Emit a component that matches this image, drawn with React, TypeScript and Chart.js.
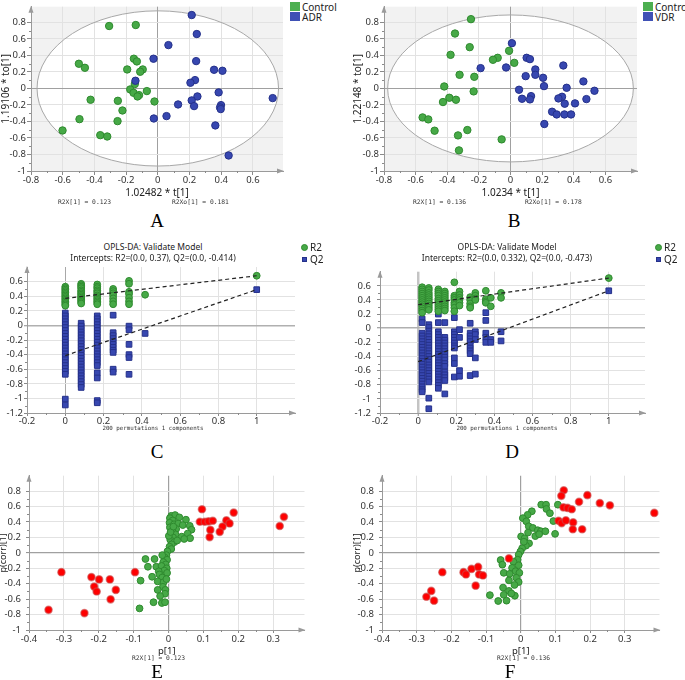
import React, { useEffect, useRef } from "react";
import { Chart, registerables } from "chart.js";
Chart.register(...registerables);

type P = [number, number];

// ---------------- Panel A: OPLS-DA scores, Control vs ADR ----------------
const A_CONTROL: P[] = [
  [-0.307, 0.756], [-0.139, 0.768], [-0.498, 0.299], [-0.46, 0.25], [-0.151, 0.36], [-0.132, 0.327],
  [-0.193, 0.23], [-0.095, 0.23], [-0.111, 0.202], [-0.145, 0.053], [-0.174, -0.012], [-0.153, -0.053],
  [-0.118, -0.081], [-0.128, -0.097], [-0.069, -0.032], [-0.424, -0.137], [-0.252, -0.15], [-0.021, -0.158],
  [-0.223, -0.267], [-0.494, -0.372], [-0.254, -0.396], [-0.601, -0.509], [-0.363, -0.566], [-0.319, -0.582],
];
const A_ADR: P[] = [
  [0.214, 0.889], [0.246, 0.659], [0.067, 0.525], [-0.027, 0.36], [0.242, 0.331], [0.355, 0.226],
  [0.408, 0.214], [-0.141, 0.093], [0.235, 0.101], [0.206, 0.069], [0.384, -0.048], [0.25, -0.097],
  [0.214, -0.145], [0.128, -0.194], [0.229, -0.214], [0.399, -0.202], [0.393, -0.23], [0.397, -0.25],
  [0.725, -0.117], [0.055, -0.335], [-0.025, -0.364], [0.363, -0.448], [0.447, -0.812],
];
const A_ELLIPSE: P = [0.762, 0.94];

// ---------------- Panel B: OPLS-DA scores, Control vs VDR ----------------
const B_CONTROL: P[] = [
  [-0.25, 0.839], [-0.351, 0.665], [-0.258, 0.5], [-0.379, 0.407], [-0.009, 0.456], [-0.081, 0.371],
  [-0.111, 0.347], [0.024, 0.31], [-0.322, 0.165], [-0.229, 0.141], [-0.419, 0.024], [-0.233, -0.036],
  [-0.387, -0.113], [-0.345, -0.137], [-0.427, -0.165], [-0.556, -0.351], [-0.52, -0.375], [-0.48, -0.512],
  [-0.273, -0.504], [-0.332, -0.569], [-0.056, -0.617], [-0.326, -0.75],
];
const B_VDR: P[] = [
  [0.009, 0.548], [-0.189, 0.246], [-0.028, 0.254], [0.102, 0.371], [0.123, 0.355], [0.157, 0.23],
  [0.157, 0.165], [0.096, 0.149], [0.206, 0.129], [0.212, 0.028], [0.334, 0.278], [0.054, -0.016],
  [0.461, 0.085], [0.355, 0.008], [0.531, -0.028], [0.073, -0.125], [0.13, -0.093], [0.123, -0.133],
  [0.326, -0.101], [0.303, -0.121], [0.343, -0.185], [0.408, -0.181], [0.48, -0.129], [0.263, -0.282],
  [0.292, -0.315], [0.341, -0.315], [0.383, -0.315], [0.214, -0.431],
];
const B_ELLIPSE: P = [0.777, 0.89];

const SCORE_X_TICKS = [-0.8, -0.6, -0.4, -0.2, 0, 0.2, 0.4, 0.6];
const SCORE_Y_TICKS = [-1, -0.8, -0.6, -0.4, -0.2, 0, 0.2, 0.4, 0.6, 0.8];

// ---------------- Panel C: permutation test (ADR) ----------------
const C_PERM_X = [0, 0.083, 0.167, 0.25, 0.333, 0.417];
const C_R2_PERM = [
  [0.53, 0.51, 0.49, 0.47, 0.45, 0.43, 0.41, 0.39, 0.37, 0.35, 0.33, 0.31, 0.29, 0.27],
  [0.57, 0.55, 0.53, 0.51, 0.48, 0.46, 0.44, 0.42, 0.4, 0.38, 0.36, 0.34, 0.32, 0.3],
  [0.56, 0.53, 0.51, 0.48, 0.46, 0.44, 0.41, 0.39, 0.37, 0.35, 0.33, 0.31, 0.29],
  [0.5, 0.47, 0.44, 0.41, 0.37, 0.33, 0.29],
  [0.61, 0.57, 0.46, 0.43, 0.38, 0.33, 0.29],
  [0.42],
];
const C_Q2_PERM = [
  [0.17, 0.13, 0.09, 0.05, 0.01, -0.03, -0.07, -0.11, -0.15, -0.19, -0.23, -0.27, -0.31, -0.35, -0.39, -0.43, -0.47, -0.51, -0.55, -0.59, -0.63, -0.67, -1.01, -1.09],
  [0.03, -0.01, -0.05, -0.09, -0.13, -0.17, -0.21, -0.25, -0.29, -0.33, -0.37, -0.41, -0.45, -0.49, -0.53, -0.57, -0.61, -0.65, -0.69, -0.73, -0.77, -0.81, -0.85],
  [0.13, 0.09, 0.05, 0.01, -0.03, -0.07, -0.11, -0.15, -0.19, -0.23, -0.27, -0.31, -0.35, -0.39, -0.43, -0.47, -0.51, -0.55, -0.65, -0.72, -1.03, -1.06],
  [0.14, -0.1, -0.14, -0.18, -0.22, -0.26, -0.3, -0.34, -0.37, -0.6, -0.64],
  [-0.01, -0.06, -0.26, -0.4, -0.44, -0.67],
  [-0.11],
];
const C_ORIG_X = 1;
const C_R2_ORIG = 0.68;
const C_Q2_ORIG = 0.49;
const C_R2_INTERCEPT = 0.37;
const C_Q2_INTERCEPT = -0.414;

// ---------------- Panel D: permutation test (VDR) ----------------
const D_PERM_X = [0.021, 0.056, 0.106, 0.14, 0.19, 0.217, 0.273, 0.3, 0.355, 0.381, 0.435];
const D_R2_PERM = [
  [0.58, 0.55, 0.52, 0.49, 0.46, 0.43, 0.4, 0.37, 0.34, 0.31, 0.28, 0.25, 0.22],
  [0.57, 0.54, 0.5, 0.47, 0.44, 0.41, 0.38, 0.35, 0.32, 0.29, 0.26],
  [0.55, 0.52, 0.49, 0.46, 0.42, 0.39, 0.36, 0.33, 0.3, 0.27, 0.24],
  [0.52, 0.49, 0.46, 0.43, 0.4, 0.37, 0.34, 0.31, 0.28, 0.25],
  [0.65, 0.46, 0.43, 0.4, 0.36, 0.33, 0.29, 0.24],
  [0.52, 0.47, 0.43, 0.4, 0.36, 0.32],
  [0.44, 0.4, 0.35, 0.31, 0.29],
  [0.5, 0.46, 0.42, 0.4],
  [0.53, 0.41, 0.38, 0.36],
  [0.43, 0.31],
  [0.5, 0.43],
];
const D_Q2_PERM = [
  [0.13, 0.08, -0.07, -0.11, -0.15, -0.19, -0.23, -0.27, -0.31, -0.35, -0.39, -0.43, -0.47, -0.51, -0.55, -0.59, -0.63, -0.67, -0.71, -0.75, -0.79, -0.83, -0.87, -0.9],
  [0.05, 0.01, -0.04, -0.08, -0.12, -0.16, -0.2, -0.24, -0.28, -0.32, -0.36, -0.4, -0.44, -0.48, -0.52, -0.56, -0.6, -0.64, -0.68, -0.72, -0.76, -0.99, -1.14],
  [0.2, 0.08, -0.05, -0.09, -0.13, -0.17, -0.21, -0.25, -0.29, -0.33, -0.37, -0.41, -0.45, -0.49, -0.53, -0.57, -0.61, -0.65, -0.69, -0.73, -0.77, -0.81, -0.85],
  [0.08, -0.13, -0.17, -0.21, -0.25, -0.29, -0.33, -0.37, -0.41, -0.45, -0.5, -0.54, -0.62, -0.66, -0.7, -0.74, -0.93],
  [0.15, -0.05, -0.09, -0.13, -0.17, -0.21, -0.25, -0.28, -0.42, -0.5, -0.69],
  [-0.02, -0.13, -0.6, -0.68],
  [0.07, -0.07, -0.11, -0.15, -0.19, -0.24, -0.28, -0.32, -0.36, -0.67],
  [-0.05, -0.09, -0.16, -0.42, -0.65],
  [0.22, 0.11, -0.07, -0.13, -0.2],
  [-0.16, -0.2],
  [-0.05, -0.18],
];
const D_ORIG_X = 1;
const D_R2_ORIG = 0.71;
const D_Q2_ORIG = 0.53;
const D_R2_INTERCEPT = 0.332;
const D_Q2_INTERCEPT = -0.473;

const PERM_X_TICKS = [-0.2, 0, 0.2, 0.4, 0.6, 0.8, 1];
const PERM_Y_TICKS = [-1.2, -1, -0.8, -0.6, -0.4, -0.2, 0, 0.2, 0.4, 0.6];

// ---------------- Panel E: S-plot (ADR) ----------------
const E_SIG: P[] = [
  [0.096, 0.565], [0.09, 0.403], [0.104, 0.403], [0.115, 0.408], [0.127, 0.416], [0.187, 0.522],
  [0.166, 0.42], [0.175, 0.382], [0.155, 0.34], [0.147, 0.272], [0.12, 0.297], [0.118, 0.204],
  [0.319, 0.348], [0.331, 0.467], [-0.307, -0.251], [-0.221, -0.314], [-0.199, -0.344], [-0.213, -0.437],
  [-0.206, -0.501], [-0.168, -0.344], [-0.151, -0.48], [-0.166, -0.603], [-0.096, -0.251], [-0.344, -0.739],
  [-0.241, -0.781],
];
const E_OTHER: P[] = [
  [0.008, 0.48], [0.019, 0.49], [0.031, 0.46], [0.05, 0.43], [0.004, 0.45], [0.012, 0.42], [0.003, 0.39],
  [0.016, 0.37], [0.028, 0.38], [0.041, 0.36], [0.061, 0.35], [0.066, 0.3], [0.055, 0.25], [0.038, 0.21],
  [0.062, 0.19], [0.045, 0.18], [0.022, 0.31], [0.011, 0.28], [0.004, 0.33], [0.02, 0.24], [0.013, 0.2],
  [0.005, 0.17], [0.017, 0.14], [0.009, 0.11], [0.003, 0.08], [0.008, 0.05], [0.001, 0.22], [0.025, 0.16],
  [0.006, 0.27], [0.014, 0.34], [-0.003, 0.02], [-0.006, -0.03], [-0.011, -0.06], [-0.018, -0.03],
  [-0.004, -0.09], [-0.04, -0.08], [-0.066, -0.08], [-0.015, -0.12], [-0.008, -0.15], [-0.059, -0.18],
  [-0.035, -0.18], [-0.02, -0.17], [-0.005, -0.2], [-0.012, -0.23], [-0.028, -0.24], [-0.047, -0.31],
  [-0.026, -0.28], [-0.01, -0.29], [-0.004, -0.26], [-0.018, -0.32], [-0.08, -0.36], [-0.031, -0.37],
  [-0.014, -0.38], [-0.006, -0.34], [-0.016, -0.44], [-0.031, -0.48], [-0.009, -0.48], [-0.01, -0.53],
  [-0.024, -0.56], [-0.043, -0.64], [-0.019, -0.65], [-0.01, -0.64], [-0.083, -0.72],
];

// ---------------- Panel F: S-plot (VDR) ----------------
const F_SIG: P[] = [
  [0.124, 0.811], [0.117, 0.739], [0.192, 0.747], [0.168, 0.662], [0.228, 0.645], [0.257, 0.616],
  [0.123, 0.59], [0.135, 0.582], [0.147, 0.565], [0.385, 0.518], [0.109, 0.416], [0.118, 0.386],
  [0.13, 0.42], [0.151, 0.395], [0.15, 0.306], [0.177, 0.306], [-0.034, -0.072], [-0.226, -0.251],
  [-0.165, -0.251], [-0.158, -0.28], [-0.142, -0.208], [-0.123, -0.183], [-0.12, -0.28], [-0.109, -0.293],
  [-0.13, -0.425], [-0.258, -0.493], [-0.272, -0.569], [-0.25, -0.62],
];
const F_OTHER: P[] = [
  [0.059, 0.624], [0.073, 0.624], [0.074, 0.569], [0.084, 0.514], [0.107, 0.624], [0.094, 0.412],
  [0.099, 0.246], [0.032, 0.539], [0.02, 0.493], [0.006, 0.45], [0.016, 0.408], [0.023, 0.344],
  [0.035, 0.323], [0.021, 0.263], [0.049, 0.293], [0.058, 0.28], [0.071, 0.28], [0.042, 0.217],
  [0.053, 0.242], [0.001, 0.212], [0.011, 0.187], [0.024, 0.123], [0.015, 0.093], [0.004, 0.059],
  [0.009, 0.144], [-0.001, 0.017], [-0.006, -0.025], [-0.009, -0.089], [-0.021, -0.115], [-0.058, -0.093],
  [-0.053, -0.153], [-0.006, -0.161], [-0.025, -0.195], [-0.015, -0.238], [-0.049, -0.259], [-0.032, -0.272],
  [-0.004, -0.259], [-0.013, -0.323], [-0.034, -0.357], [-0.006, -0.378], [-0.018, -0.416], [-0.051, -0.45],
  [-0.034, -0.493], [-0.049, -0.544], [-0.017, -0.556], [-0.027, -0.527], [-0.089, -0.548], [-0.065, -0.624],
  [-0.041, -0.62],
];
const S_X_TICKS = [-0.4, -0.3, -0.2, -0.1, 0, 0.1, 0.2, 0.3];
const S_Y_TICKS = [-1, -0.8, -0.6, -0.4, -0.2, 0, 0.2, 0.4, 0.6, 0.8];

// ---------------- styling ----------------
const FONT = '"Noto Sans", "DejaVu Sans", sans-serif';
const MONO = '"DejaVu Sans Mono", "Liberation Mono", monospace';
const SERIF = '"Liberation Serif", "DejaVu Serif", serif';
const TICK_SIZE = 9.5;
const GREEN = "#47a947";
const GREEN_B = "#2f8a2f";
const BLUE = "#3747b0";
const BLUE_B = "#25318a";
const RED = "#ff0000";
const RED_B = "rgba(205,70,70,0.6)";
const GRID = "#e2e2e2";

const pts = (a: P[]) => a.map(([x, y]) => ({ x, y }));
const columns = (xs: number[], ys: number[][]) => {
  const out: { x: number; y: number }[] = [];
  xs.forEach((x, i) => ys[i].forEach((y) => out.push({ x, y })));
  return out;
};
const fmt = (v: number) => String(Math.round(v * 100) / 100);

function axis(o: {
  min: number; max: number; ticks: number[]; size: number; horizontal: boolean;
  tickLen: number; tickPad: number; title?: string; titlePad?: number; titleSize?: number;
  zeroColor: string; zeroWidth: number;
}) {
  const isZero = (c: any) => c.tick && Math.abs(c.tick.value) < 1e-9;
  return {
    type: "linear",
    min: o.min,
    max: o.max,
    afterBuildTicks: (s: any) => {
      s.ticks = o.ticks.map((v) => ({ value: v }));
    },
    afterFit: (s: any) => {
      if (o.horizontal) s.height = o.size;
      else s.width = o.size;
    },
    ticks: {
      autoSkip: false, maxRotation: 0, minRotation: 0, padding: o.tickPad, color: "#333",
      font: { family: FONT, size: TICK_SIZE },
      callback: (v: number) => fmt(v),
    },
    grid: {
      color: (c: any) => (isZero(c) ? o.zeroColor : GRID),
      lineWidth: (c: any) => (isZero(c) ? o.zeroWidth : 1),
      tickLength: o.tickLen,
      tickColor: "#8a8a8a",
      tickWidth: 1,
      drawTicks: true,
    },
    border: { display: true, color: "#9a9a9a", width: 1 },
    title: o.title
      ? { display: true, text: o.title, color: "#222", font: { family: FONT, size: o.titleSize ?? 10 }, padding: o.titlePad ?? 0 }
      : { display: false },
  };
}

function decor(o: { bg?: string; ellipse?: P }) {
  return {
    id: "decor",
    beforeDraw(chart: any) {
      const { ctx, chartArea: a, scales } = chart;
      ctx.save();
      if (o.bg) {
        ctx.fillStyle = o.bg;
        ctx.fillRect(a.left, a.top, a.right - a.left, a.bottom - a.top);
      }
      if (o.ellipse) {
        const cx = scales.x.getPixelForValue(0);
        const cy = scales.y.getPixelForValue(0);
        const rx = Math.abs(scales.x.getPixelForValue(o.ellipse[0]) - cx);
        const ry = Math.abs(scales.y.getPixelForValue(o.ellipse[1]) - cy);
        ctx.beginPath();
        ctx.ellipse(cx, cy, rx, ry, 0, 0, Math.PI * 2);
        ctx.fillStyle = "#ffffff";
        ctx.fill();
      }
      ctx.restore();
    },
    beforeDatasetsDraw(chart: any) {
      const { ctx, chartArea: a, scales } = chart;
      ctx.save();
      if (o.ellipse) {
        const cx = scales.x.getPixelForValue(0);
        const cy = scales.y.getPixelForValue(0);
        const rx = Math.abs(scales.x.getPixelForValue(o.ellipse[0]) - cx);
        const ry = Math.abs(scales.y.getPixelForValue(o.ellipse[1]) - cy);
        ctx.beginPath();
        ctx.ellipse(cx, cy, rx, ry, 0, 0, Math.PI * 2);
        ctx.strokeStyle = "#a8a8a8";
        ctx.lineWidth = 1;
        ctx.stroke();
      }
      // minor ticks
      ctx.strokeStyle = "#8a8a8a";
      ctx.lineWidth = 1;
      const xt = scales.x.ticks.map((t: any) => t.value);
      const yt = scales.y.ticks.map((t: any) => t.value);
      ctx.beginPath();
      for (let i = 0; i < xt.length - 1; i++) {
        const px = Math.round(scales.x.getPixelForValue((xt[i] + xt[i + 1]) / 2)) + 0.5;
        ctx.moveTo(px, a.bottom);
        ctx.lineTo(px, a.bottom + 2);
      }
      for (let i = 0; i < yt.length - 1; i++) {
        const py = Math.round(scales.y.getPixelForValue((yt[i] + yt[i + 1]) / 2)) + 0.5;
        ctx.moveTo(a.left, py);
        ctx.lineTo(a.left - 2, py);
      }
      ctx.stroke();
      ctx.restore();
    },
    afterDraw(chart: any) {
      const { ctx, chartArea: a } = chart;
      ctx.save();
      ctx.fillStyle = "#9a9a9a";
      ctx.beginPath();
      ctx.moveTo(a.left, a.top - 1);
      ctx.lineTo(a.left - 2.5, a.top + 6);
      ctx.lineTo(a.left + 2.5, a.top + 6);
      ctx.closePath();
      ctx.fill();
      ctx.beginPath();
      ctx.moveTo(a.right + 1, a.bottom);
      ctx.lineTo(a.right - 6, a.bottom - 2.5);
      ctx.lineTo(a.right - 6, a.bottom + 2.5);
      ctx.closePath();
      ctx.fill();
      ctx.restore();
    },
  };
}

function baseOptions(padding: any, x: any, y: any) {
  return {
    responsive: false,
    maintainAspectRatio: false,
    animation: false,
    events: [],
    layout: { padding },
    plugins: { legend: { display: false }, tooltip: { enabled: false }, title: { display: false } },
    scales: { x, y },
  };
}

const dot = (data: any[], fill: string, border: string, r: number, bw = 1, style = "circle") => ({
  data, backgroundColor: fill, borderColor: border, borderWidth: bw, pointRadius: r, pointStyle: style, clip: false,
});
const dash = (data: any[]) => ({
  type: "line", data, showLine: true, borderColor: "#222", borderWidth: 1.2, borderDash: [4, 3],
  pointRadius: 0, fill: false, clip: false,
});

function scoreConfig(ctrl: P[], treat: P[], ell: P, xMax: number, yW: number, padL: number, padR: number, xTitle: string, yTitle: string) {
  return {
    type: "scatter",
    data: { datasets: [dot(pts(treat), BLUE, BLUE_B, 3.7), dot(pts(ctrl), GREEN, GREEN_B, 3.7)] },
    options: baseOptions(
      { left: padL, top: 6, right: padR, bottom: 6 },
      axis({ min: -0.8, max: xMax, ticks: SCORE_X_TICKS, size: 28, horizontal: true, tickLen: 4, tickPad: 0, title: xTitle, zeroColor: "#a0a0a0", zeroWidth: 1 }),
      axis({ min: -1, max: 0.99, ticks: SCORE_Y_TICKS, size: yW, horizontal: false, tickLen: 4, tickPad: 1, title: yTitle, zeroColor: "#a0a0a0", zeroWidth: 1 }),
    ),
    plugins: [decor({ bg: "#f2f2f2", ellipse: ell })],
  };
}

function permConfig(xs: number[], r2: number[][], q2: number[][], r2o: number, q2o: number, r2i: number, q2i: number, origX: number, xMax: number, yW: number, yPad: number, zeroXW: number, zeroXC: string) {
  return {
    type: "scatter",
    data: {
      datasets: [
        dash([{ x: 0, y: r2i }, { x: origX, y: r2o }]),
        dash([{ x: 0, y: q2i }, { x: origX, y: q2o }]),
        dot([...columns(xs, r2), { x: origX, y: r2o }], GREEN, GREEN_B, 3.4),
        dot([...columns(xs, q2), { x: origX, y: q2o }], BLUE, BLUE_B, 4, 1, "rect"),
      ],
    },
    options: baseOptions(
      { left: 0, top: 7, right: 5, bottom: 6 },
      axis({ min: -0.2, max: xMax, ticks: PERM_X_TICKS, size: 16, horizontal: true, tickLen: 3, tickPad: 0, zeroColor: zeroXC, zeroWidth: zeroXW }),
      axis({ min: -1.2, max: 0.8, ticks: PERM_Y_TICKS, size: yW, horizontal: false, tickLen: 3, tickPad: yPad, zeroColor: "#b0b0b0", zeroWidth: 1.5 }),
    ),
    plugins: [decor({})],
  };
}

function sConfig(sig: P[], other: P[], xMax: number, yW: number, yTitlePad: number, padR: number) {
  return {
    type: "scatter",
    data: { datasets: [dot(pts(sig), RED, RED_B, 3.6, 1.5), dot(pts(other), GREEN, GREEN_B, 3.4)] },
    options: baseOptions(
      { left: 0, top: 8, right: padR, bottom: 3 },
      axis({ min: -0.4, max: xMax, ticks: S_X_TICKS, size: 27, horizontal: true, tickLen: 3, tickPad: 1, title: "p[1]", titleSize: 9.5, zeroColor: "#a0a0a0", zeroWidth: 1.2 }),
      axis({ min: -1, max: 1.0, ticks: S_Y_TICKS, size: yW, horizontal: false, tickLen: 3, tickPad: 5, title: "p(corr)[1]", titleSize: 9, titlePad: yTitlePad, zeroColor: "#a0a0a0", zeroWidth: 1.2 }),
    ),
    plugins: [decor({})],
  };
}

function Panel({ left, top, width, height, make }: { left: number; top: number; width: number; height: number; make: () => any }) {
  const ref = useRef<HTMLCanvasElement>(null);
  useEffect(() => {
    const chart = new Chart(ref.current as HTMLCanvasElement, make());
    return () => chart.destroy();
  }, []);
  return <canvas ref={ref} width={width} height={height} style={{ position: "absolute", left, top, width, height }} />;
}

function T({ x, y, children, size, family, center, color = "#222" }: any) {
  return (
    <div style={{ position: "absolute", left: x, top: y, transform: `translate(${center ? "-50%" : "0"}, -50%)`, fontSize: size, fontFamily: family, lineHeight: 1, whiteSpace: "nowrap", color }}>
      {children}
    </div>
  );
}

function Swatch({ x, y, w, h, color, border, round }: any) {
  return <div style={{ position: "absolute", left: x, top: y, width: w, height: h, background: color, border: border ? `1px solid ${border}` : "none", boxSizing: "border-box", borderRadius: round ? "50%" : 0 }} />;
}

export default function App() {
  return (
    <div style={{ position: "fixed", left: 0, top: 0, width: 685, height: 680, background: "#fff", overflow: "hidden" }}>
      <Panel left={0} top={0} width={290} height={205} make={() => scoreConfig(A_CONTROL, A_ADR, A_ELLIPSE, 0.79, 31, 0, 7, "1.02482 * t[1]", "1.19106 * to[1]")} />
      <Panel left={352} top={0} width={290} height={205} make={() => scoreConfig(B_CONTROL, B_VDR, B_ELLIPSE, 0.8, 32, 0, 5, "1.0234 * t[1]", "1.22148 * to[1]")} />
      <Panel left={0} top={260} width={300} height={175} make={() => permConfig(C_PERM_X, C_R2_PERM, C_Q2_PERM, C_R2_ORIG, C_Q2_ORIG, C_R2_INTERCEPT, C_Q2_INTERCEPT, C_ORIG_X, 1.2, 27, 1, 1, "#a8a8a8")} />
      <Panel left={350} top={260} width={300} height={175} make={() => permConfig(D_PERM_X, D_R2_PERM, D_Q2_PERM, D_R2_ORIG, D_Q2_ORIG, D_R2_INTERCEPT, D_Q2_INTERCEPT, D_ORIG_X, 1.19, 30, 6, 2.5, "#c4c4c4")} />
      <Panel left={-2} top={465} width={312} height={195} make={() => sConfig(E_SIG, E_OTHER, 0.39, 31, 0, 5)} />
      <Panel left={350} top={465} width={315} height={195} make={() => sConfig(F_SIG, F_OTHER, 0.4, 32, 2, 3)} />

      {/* legends A/B */}
      <Swatch x={290} y={2} w={10} h={9} color="#4caf50" />
      <T x={302} y={7} size={10} family={FONT}>Control</T>
      <Swatch x={290} y={12} w={10} h={9} color="#3f51b5" />
      <T x={302} y={17} size={10} family={FONT}>ADR</T>
      <Swatch x={643} y={2} w={10} h={9} color="#4caf50" />
      <T x={655} y={7} size={10} family={FONT}>Control</T>
      <Swatch x={643} y={12} w={10} h={9} color="#3f51b5" />
      <T x={655} y={17} size={10} family={FONT}>VDR</T>

      {/* score plot footers */}
      <T x={58} y={202} size={6.3} family={MONO} color="#333">R2X[1] = 0.123</T>
      <T x={172} y={202} size={6.3} family={MONO} color="#333">R2Xo[1] = 0.181</T>
      <T x={413} y={202} size={6.3} family={MONO} color="#333">R2X[1] = 0.136</T>
      <T x={525} y={202} size={6.3} family={MONO} color="#333">R2Xo[1] = 0.178</T>

      {/* permutation titles */}
      <T x={153} y={247} size={8.5} family={FONT} center>OPLS-DA: Validate Model</T>
      <T x={153} y={258} size={8.5} family={FONT} center>Intercepts: R2=(0.0, 0.37), Q2=(0.0, -0.414)</T>
      <T x={507} y={247} size={8.5} family={FONT} center>OPLS-DA: Validate Model</T>
      <T x={507} y={258} size={8.5} family={FONT} center>Intercepts: R2=(0.0, 0.332), Q2=(0.0, -0.473)</T>
      <Swatch x={300.5} y={243.5} w={7} h={7} color={GREEN} border={GREEN_B} round />
      <T x={310} y={247} size={10} family={FONT}>R2</T>
      <Swatch x={301.5} y={256.5} w={5.5} h={5.5} color={BLUE} border={BLUE_B} />
      <T x={310} y={259} size={10} family={FONT}>Q2</T>
      <Swatch x={654.5} y={243.5} w={7} h={7} color={GREEN} border={GREEN_B} round />
      <T x={664} y={247} size={10} family={FONT}>R2</T>
      <Swatch x={655.5} y={256.5} w={5.5} h={5.5} color={BLUE} border={BLUE_B} />
      <T x={664} y={259} size={10} family={FONT}>Q2</T>
      <T x={153} y={429} size={5.8} family={MONO} center color="#333">200 permutations 1 components</T>
      <T x={507} y={429} size={5.8} family={MONO} center color="#333">200 permutations 1 components</T>

      {/* S-plot footers */}
      <T x={132} y={658} size={6.3} family={MONO} color="#333">R2X[1] = 0.123</T>
      <T x={497} y={658} size={6.3} family={MONO} color="#333">R2X[1] = 0.136</T>

      {/* panel letters */}
      <T x={157} y={220} size={19} family={SERIF} center color="#000">A</T>
      <T x={514} y={220} size={19} family={SERIF} center color="#000">B</T>
      <T x={157} y={451} size={19} family={SERIF} center color="#000">C</T>
      <T x={512} y={451} size={19} family={SERIF} center color="#000">D</T>
      <T x={157} y={671} size={19} family={SERIF} center color="#000">E</T>
      <T x={510} y={671} size={19} family={SERIF} center color="#000">F</T>
    </div>
  );
}
